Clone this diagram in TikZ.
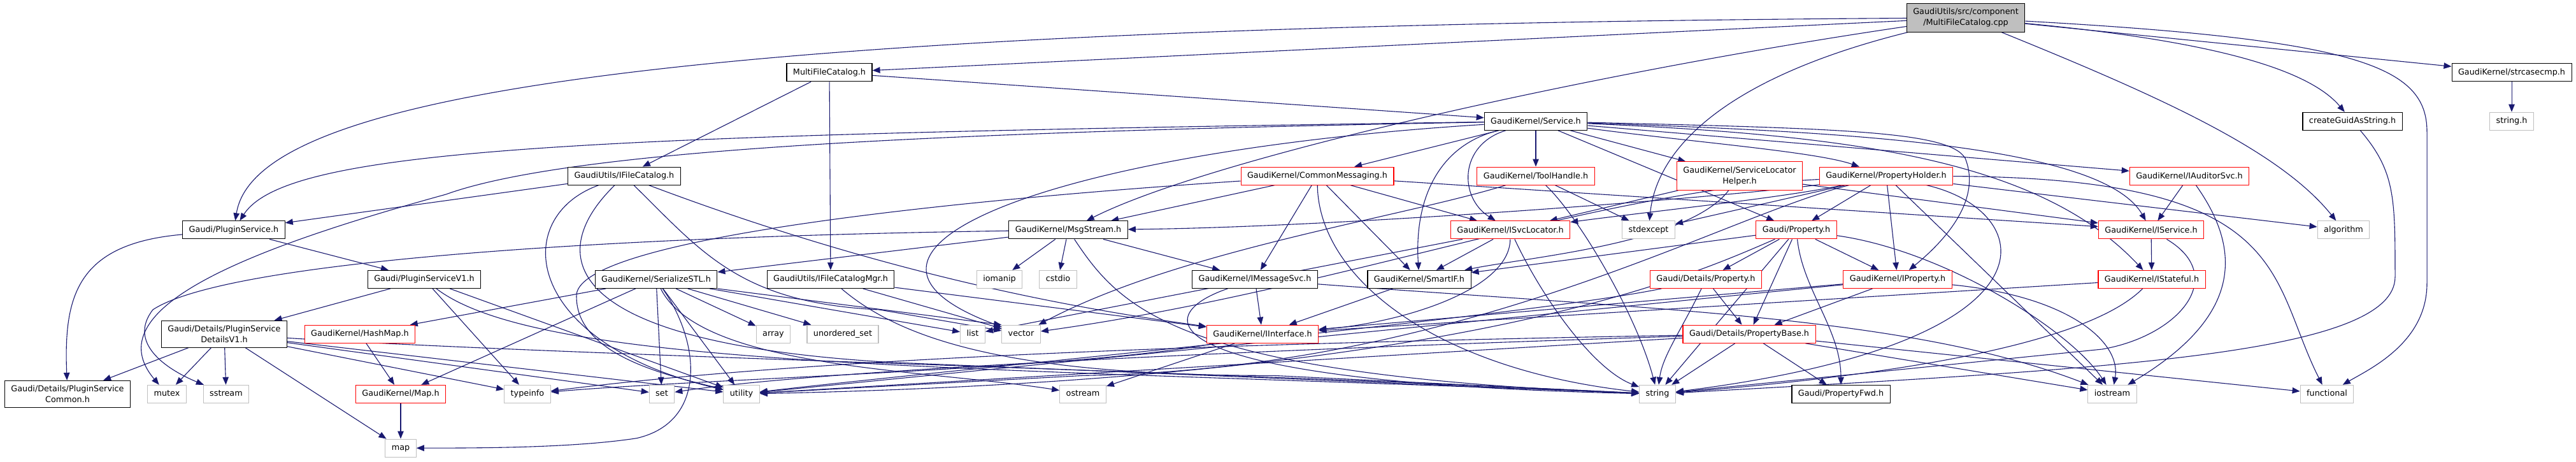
\documentclass[tikz,border=0pt]{standalone}
\usepackage{fontspec}
\setmainfont{DejaVu Sans}
\usetikzlibrary{arrows.meta}
\definecolor{edgeblue}{HTML}{191970}
\definecolor{extgray}{HTML}{BFBFBF}
\definecolor{cutred}{HTML}{FF0000}
\newcommand{\depfont}{\fontsize{12.8bp}{17bp}\selectfont}
\pgfdeclarelayer{edgelayer}
\pgfsetlayers{edgelayer,main}
\tikzset{
    file/.style={draw=black, fill=white, line width=1.1bp, inner xsep=10bp, inner ysep=7.5bp, minimum height=28bp, align=center, font=\depfont},
    cutfile/.style={file, draw=cutred},
    extfile/.style={file, draw=extgray, text height=9.8bp, text depth=3bp},
    rootfile/.style={file, fill=extgray},
    dep/.style={draw=edgeblue, line width=1.1bp, -{Triangle[length=12bp,width=9.5bp]}}
}
\begin{document}
\begin{tikzpicture}[x=1bp,y=-1.034bp]
    \useasboundingbox (0,0) rectangle (4044,700.2);
    \node[rootfile] (root) at (3086,27) {GaudiUtils/src/component\\/MultiFileCatalog.cpp};
    \node[file] (mfch) at (1302,110) {MultiFileCatalog.h};
    \node[file] (strcasecmp) at (3943,110) {GaudiKernel/strcasecmp.h};
    \node[file] (service) at (2411,184) {GaudiKernel/Service.h};
    \node[file] (createguid) at (3693,184) {createGuidAsString.h};
    \node[extfile] (stringh) at (3943,184) {string.h};
    \node[file] (ifilecat) at (980,267) {GaudiUtils/IFileCatalog.h};
    \node[cutfile] (commsg) at (2068,267) {GaudiKernel/CommonMessaging.h};
    \node[cutfile] (toolhandle) at (2411,267) {GaudiKernel/ToolHandle.h};
    \node[cutfile] (slhelper) at (2731,267) {GaudiKernel/ServiceLocator\\Helper.h};
    \node[cutfile] (propholder) at (2961,267) {GaudiKernel/PropertyHolder.h};
    \node[cutfile] (iauditor) at (3437,267) {GaudiKernel/IAuditorSvc.h};
    \node[file] (pluginsvc) at (367,349) {Gaudi/PluginService.h};
    \node[file] (msgstream) at (1677,349) {GaudiKernel/MsgStream.h};
    \node[cutfile] (isvcloc) at (2371,349) {GaudiKernel/ISvcLocator.h};
    \node[extfile] (stdexcept) at (2588,349) {stdexcept};
    \node[cutfile] (property) at (2820,349) {Gaudi/Property.h};
    \node[cutfile] (iservice) at (3377,349) {GaudiKernel/IService.h};
    \node[extfile] (algorithm) at (3679,349) {algorithm};
    \node[file] (pluginv1) at (666,424) {Gaudi/PluginServiceV1.h};
    \node[file] (serialstl) at (1030,424) {GaudiKernel/SerializeSTL.h};
    \node[file] (ifilecatmgr) at (1304,424) {GaudiUtils/IFileCatalogMgr.h};
    \node[extfile] (iomanip) at (1569,424) {iomanip};
    \node[extfile] (cstdio) at (1661,424) {cstdio};
    \node[file] (imsgsvc) at (1970,424) {GaudiKernel/IMessageSvc.h};
    \node[file] (smartif) at (2228,424) {GaudiKernel/SmartIF.h};
    \node[cutfile] (detprop) at (2678,424) {Gaudi/Details/Property.h};
    \node[cutfile] (iproperty) at (2979,424) {GaudiKernel/IProperty.h};
    \node[cutfile] (istateful) at (3378,424) {GaudiKernel/IStateful.h};
    \node[file] (detailsv1) at (352,507) {Gaudi/Details/PluginService\\DetailsV1.h};
    \node[cutfile] (hashmap) at (565,507) {GaudiKernel/HashMap.h};
    \node[extfile] (array) at (1214,507) {array};
    \node[extfile] (uset) at (1323,507) {unordered\_set};
    \node[extfile] (list) at (1527,507) {list};
    \node[extfile] (vector) at (1603,507) {vector};
    \node[cutfile] (iinterface) at (1982,507) {GaudiKernel/IInterface.h};
    \node[cutfile] (propbase) at (2746,507) {Gaudi/Details/PropertyBase.h};
    \node[file] (common) at (106,598) {Gaudi/Details/PluginService\\Common.h};
    \node[extfile] (mutex) at (262,598) {mutex};
    \node[extfile] (sstream) at (355,598) {sstream};
    \node[cutfile] (maph) at (629,598) {GaudiKernel/Map.h};
    \node[extfile] (typeinfo) at (828,598) {typeinfo};
    \node[extfile] (set) at (1039,598) {set};
    \node[extfile] (utility) at (1164,598) {utility};
    \node[extfile] (ostream) at (1700,598) {ostream};
    \node[extfile] (string) at (2602,598) {string};
    \node[file] (propfwd) at (2890,598) {Gaudi/PropertyFwd.h};
    \node[extfile] (iostream) at (3316,598) {iostream};
    \node[extfile] (functional) at (3653,598) {functional};
    \node[extfile] (map) at (629,680) {map};
    \begin{pgfonlayer}{edgelayer}
    \draw[dep] (root) -- (mfch);
    \draw[dep] (root) .. controls (1000,40) and (400,150) .. (pluginsvc);
    \draw[dep] (root) .. controls (2500,110) and (1900,240) .. (msgstream);
    \draw[dep] (root) .. controls (2700,120) and (2600,230) .. (stdexcept);
    \draw[dep] (root) .. controls (3400,150) and (3580,230) .. (algorithm);
    \draw[dep] (root) .. controls (3700,60) and (3810,100) .. (3810,200) -- (3810,430) .. controls (3810,520) and (3720,560) .. (functional);
    \draw[dep] (root) .. controls (3450,60) and (3620,100) .. (createguid);
    \draw[dep] (root) -- (strcasecmp);
    \draw[dep] (mfch) -- (service);
    \draw[dep] (mfch) -- (ifilecat);
    \draw[dep] (mfch) -- (ifilecatmgr);
    \draw[dep] (strcasecmp) -- (stringh);
    \draw[dep] (createguid) .. controls (3760,260) and (3760,300) .. (3760,420) .. controls (3760,540) and (3300,560) .. (string);
    \draw[dep] (service) .. controls (900,205) and (450,225) .. (pluginsvc);
    \draw[dep] (service) .. controls (1500,200) and (900,225) .. (700,295) .. controls (380,380) and (150,470) .. (mutex);
    \draw[dep] (service) .. controls (1650,230) and (1250,380) .. (vector);
    \draw[dep] (service) -- (commsg);
    \draw[dep] (service) -- (toolhandle);
    \draw[dep] (service) -- (slhelper);
    \draw[dep] (service) .. controls (2650,215) and (2850,230) .. (propholder);
    \draw[dep] (service) -- (iauditor);
    \draw[dep] (service) .. controls (2290,220) and (2290,300) .. (isvcloc);
    \draw[dep] (service) .. controls (2260,220) and (2220,300) .. (smartif);
    \draw[dep] (service) -- (property);
    \draw[dep] (service) .. controls (2900,200) and (3300,220) .. (iservice);
    \draw[dep] (service) .. controls (2900,205) and (3200,240) .. (istateful);
    \draw[dep] (service) .. controls (2900,195) and (3060,200) .. (3085,240) .. controls (3110,300) and (3060,360) .. (iproperty);
    \draw[dep] (ifilecat) -- (pluginsvc);
    \draw[dep] (ifilecat) .. controls (800,330) and (820,520) .. (utility);
    \draw[dep] (ifilecat) .. controls (860,380) and (860,520) .. (1400,550) -- (string);
    \draw[dep] (ifilecat) .. controls (1100,380) and (1160,460) .. (1380,470) -- (vector);
    \draw[dep] (ifilecat) .. controls (1400,420) and (1700,470) .. (iinterface);
    \draw[dep] (ifilecatmgr) -- (iinterface);
    \draw[dep] (ifilecatmgr) -- (vector);
    \draw[dep] (ifilecatmgr) .. controls (1420,520) and (1600,570) .. (2000,570) -- (string);
    \draw[dep] (commsg) -- (msgstream);
    \draw[dep] (commsg) -- (imsgsvc);
    \draw[dep] (commsg) -- (isvcloc);
    \draw[dep] (commsg) -- (smartif);
    \draw[dep] (commsg) .. controls (2070,420) and (2250,560) .. (string);
    \draw[dep] (commsg) .. controls (1400,310) and (900,370) .. (905,450) .. controls (905,540) and (1050,570) .. (utility);
    \draw[dep] (commsg) -- (iservice);
    \draw[dep] (toolhandle) .. controls (2200,330) and (1850,380) .. (vector);
    \draw[dep] (toolhandle) -- (stdexcept);
    \draw[dep] (toolhandle) .. controls (2480,330) and (2570,480) .. (string);
    \draw[dep] (slhelper) -- (isvcloc);
    \draw[dep] (slhelper) .. controls (2650,370) and (2400,390) .. (smartif);
    \draw[dep] (slhelper) -- (iservice);
    \draw[dep] (propholder) -- (property);
    \draw[dep] (propholder) -- (iproperty);
    \draw[dep] (propholder) .. controls (2800,300) and (2600,320) .. (isvcloc);
    \draw[dep] (propholder) .. controls (2700,300) and (2100,345) .. (msgstream);
    \draw[dep] (propholder) -- (stdexcept);
    \draw[dep] (propholder) -- (algorithm);
    \draw[dep] (propholder) .. controls (3600,270) and (3560,420) .. (functional);
    \draw[dep] (propholder) -- (iostream);
    \draw[dep] (propholder) .. controls (3200,320) and (3250,520) .. (string);
    \draw[dep] (propholder) .. controls (2700,330) and (2300,560) .. (1700,570) -- (utility);
    \draw[dep] (propholder) .. controls (2500,290) and (2100,440) .. (vector);
    \draw[dep] (property) -- (detprop);
    \draw[dep] (property) -- (propbase);
    \draw[dep] (property) -- (iproperty);
    \draw[dep] (property) .. controls (2830,440) and (2890,500) .. (propfwd);
    \draw[dep] (property) -- (string);
    \draw[dep] (property) .. controls (2650,420) and (2300,575) .. (utility);
    \draw[dep] (property) .. controls (3050,380) and (3250,500) .. (iostream);
    \draw[dep] (property) -- (smartif);
    \draw[dep] (detprop) -- (propbase);
    \draw[dep] (detprop) .. controls (2640,500) and (2610,540) .. (string);
    \draw[dep] (detprop) .. controls (2400,480) and (1500,560) .. (utility);
    \draw[dep] (propbase) -- (string);
    \draw[dep] (propbase) -- (propfwd);
    \draw[dep] (propbase) -- (iostream);
    \draw[dep] (propbase) -- (functional);
    \draw[dep] (propbase) -- (utility);
    \draw[dep] (propbase) .. controls (2000,520) and (1300,540) .. (typeinfo);
    \draw[dep] (propbase) .. controls (2000,530) and (1300,560) .. (set);
    \draw[dep] (iproperty) -- (iinterface);
    \draw[dep] (iproperty) -- (propbase);
    \draw[dep] (iproperty) -- (utility);
    \draw[dep] (iproperty) .. controls (3250,450) and (3330,520) .. (iostream);
    \draw[dep] (iservice) -- (istateful);
    \draw[dep] (iservice) .. controls (3500,420) and (3420,510) .. (3300,530) -- (string);
    \draw[dep] (istateful) -- (iinterface);
    \draw[dep] (istateful) .. controls (3300,500) and (3100,560) .. (string);
    \draw[dep] (iauditor) -- (iservice);
    \draw[dep] (iauditor) .. controls (3520,380) and (3520,480) .. (iostream);
    \draw[dep] (msgstream) -- (serialstl);
    \draw[dep] (msgstream) .. controls (900,360) and (350,400) .. (240,470) .. controls (200,520) and (260,560) .. (sstream);
    \draw[dep] (msgstream) -- (iomanip);
    \draw[dep] (msgstream) -- (cstdio);
    \draw[dep] (msgstream) -- (imsgsvc);
    \draw[dep] (msgstream) .. controls (1760,470) and (1850,570) .. (string);
    \draw[dep] (serialstl) -- (hashmap);
    \draw[dep] (serialstl) -- (maph);
    \draw[dep] (serialstl) -- (array);
    \draw[dep] (serialstl) -- (uset);
    \draw[dep] (serialstl) -- (list);
    \draw[dep] (serialstl.south east) -- (vector.north west);
    \draw[dep] (serialstl) .. controls (1100,520) and (1110,640) .. (1000,665) .. controls (900,680) and (750,680) .. (map);
    \draw[dep] (serialstl) .. controls (1100,560) and (1450,560) .. (ostream);
    \draw[dep] (serialstl) -- (set);
    \draw[dep] (serialstl) -- (utility);
    \draw[dep] (imsgsvc) -- (iinterface);
    \draw[dep] (imsgsvc) .. controls (1800,480) and (1800,580) .. (string);
    \draw[dep] (imsgsvc) .. controls (2600,470) and (3000,480) .. (iostream);
    \draw[dep] (iinterface) -- (ostream);
    \draw[dep] (iinterface) .. controls (1700,560) and (1100,575) .. (typeinfo);
    \draw[dep] (smartif) -- (iinterface);
    \draw[dep] (isvcloc) -- (smartif);
    \draw[dep] (isvcloc) -- (list);
    \draw[dep] (isvcloc) .. controls (2370,440) and (2200,490) .. (iinterface);
    \draw[dep] (isvcloc) .. controls (2420,450) and (2500,560) .. (string);
    \draw[dep] (pluginsvc) .. controls (120,370) and (100,450) .. (common);
    \draw[dep] (pluginsvc) -- (pluginv1);
    \draw[dep] (pluginv1) -- (detailsv1);
    \draw[dep] (pluginv1) -- (typeinfo);
    \draw[dep] (pluginv1) -- (utility);
    \draw[dep] (pluginv1) .. controls (850,560) and (1500,555) .. (string);
    \draw[dep] (detailsv1) -- (common);
    \draw[dep] (detailsv1) -- (mutex);
    \draw[dep] (detailsv1) -- (sstream);
    \draw[dep] (detailsv1) -- (map);
    \draw[dep] (detailsv1) -- (typeinfo);
    \draw[dep] (detailsv1) -- (set);
    \draw[dep] (detailsv1) -- (utility);
    \draw[dep] (detailsv1) .. controls (900,540) and (1800,560) .. (string);
    \draw[dep] (hashmap) -- (maph);
    \draw[dep] (maph) -- (map);
    \end{pgfonlayer}
\end{tikzpicture}
\end{document}
